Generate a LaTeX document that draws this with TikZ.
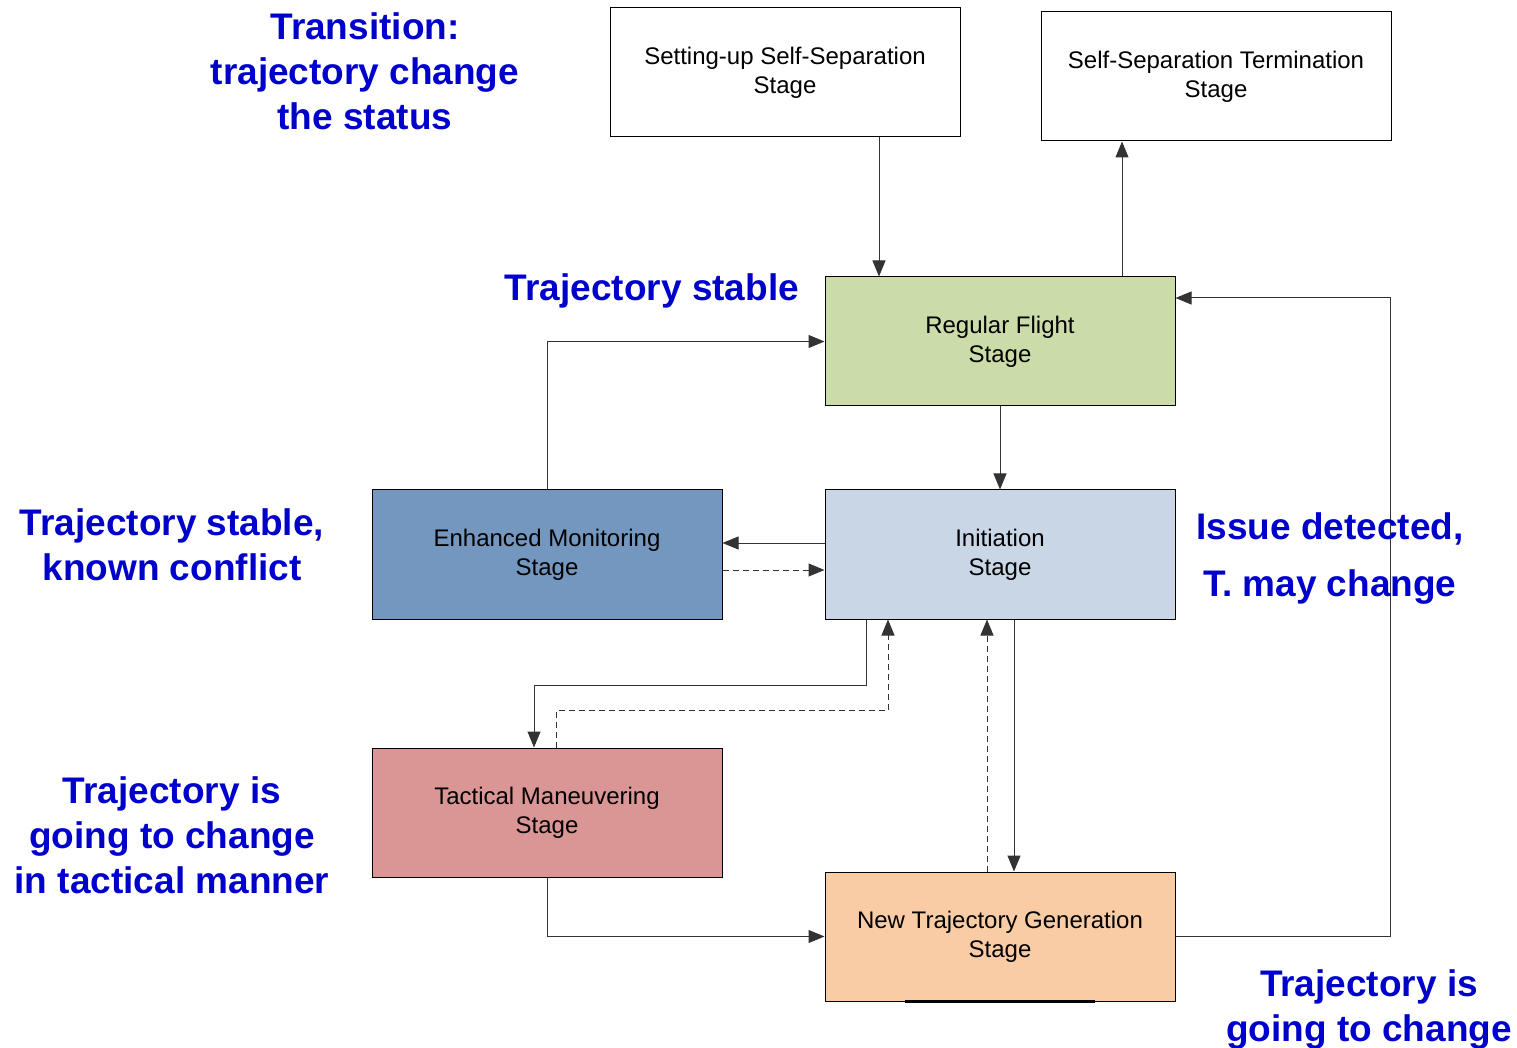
\documentclass[tikz,border=0pt]{standalone}
\usepackage{fontspec}
\setmainfont{Liberation Sans}
\usetikzlibrary{arrows.meta,calc}

\definecolor{labelcolor}{rgb}{0.000000, 0.000000, 0.800000}
\definecolor{linkcolor}{rgb}{0.200000, 0.200000, 0.200000}
\definecolor{regularfill}{rgb}{0.800000, 0.862745, 0.658824}
\definecolor{monitorfill}{rgb}{0.454902, 0.592157, 0.752941}
\definecolor{initfill}{rgb}{0.784314, 0.839216, 0.901961}
\definecolor{tacticalfill}{rgb}{0.854902, 0.588235, 0.580392}
\definecolor{newtrajfill}{rgb}{0.980392, 0.800000, 0.650980}

\tikzset{
  stagebox/.style={draw=black, line width=0.5pt, fill=white, minimum width=175pt,
    minimum height=64.5pt, align=center, font=\fontsize{12}{14.5}\selectfont},
  statuslabel/.style={text=labelcolor, align=center,
    font=\fontsize{18.5}{22.5}\selectfont\bfseries},
  link/.style={draw=linkcolor, line width=0.5pt, -{Triangle[length=8pt,width=6.5pt]}},
  dashlink/.style={link, dash pattern=on 3pt off 2pt}
}

\begin{document}
\begin{tikzpicture}[x=0.5pt,y=-0.5pt]
\useasboundingbox (0,0) rectangle (1517,1048);

\node[stagebox] (setup) at (785,72.5) {Setting-up Self-Separation\\Stage};
\node[stagebox] (termination) at (1216,76.5) {Self-Separation Termination\\Stage};
\node[stagebox, fill=regularfill] (regular) at (1000,341.5) {Regular Flight\\Stage};
\node[stagebox, fill=monitorfill] (monitoring) at (547,554.5) {Enhanced Monitoring\\Stage};
\node[stagebox, fill=initfill] (initiation) at (1000,554.5) {Initiation\\Stage};
\node[stagebox, fill=tacticalfill] (tactical) at (547,812.5) {Tactical Maneuvering\\Stage};
\node[stagebox, fill=newtrajfill] (newtraj) at (1000,936.5) {New Trajectory Generation\\Stage};
\draw[line width=1.5pt] ($(newtraj.south)+(-95,0)$) -- ($(newtraj.south)+(95,0)$);

\draw[link] ($(setup.south)+(94,0)$) -- ($(regular.north)+(-121,0)$);
\draw[link] ($(regular.north)+(122,0)$) -- ($(termination.south)+(-94,0)$);
\draw[link] (regular.south) -- (initiation.north);
\draw[link] ($(initiation.west)+(0,-11.5)$) -- ($(monitoring.east)+(0,-11.5)$);
\draw[dashlink] ($(monitoring.east)+(0,15.5)$) -- ($(initiation.west)+(0,15.5)$);
\draw[link] (monitoring.north) |- (regular.west);
\draw[link] ($(initiation.south)+(-134,0)$) -- ++(0,66) -| ($(tactical.north)+(-13,0)$);
\draw[dashlink] ($(tactical.north)+(9,0)$) -- ++(0,-37) -| ($(initiation.south)+(-112,0)$);
\draw[dashlink] ($(newtraj.north)+(-13,0)$) -- ($(initiation.south)+(-13,0)$);
\draw[link] ($(initiation.south)+(14,0)$) -- ($(newtraj.north)+(14,0)$);
\draw[link] (tactical.south) |- (newtraj.west);
\draw[link] (newtraj.east) -- ++(215,0) |- ($(regular.east)+(0,-43.5)$);

\node[statuslabel] (transition) at (365,71) {Transition:\\trajectory change\\the status};
\node[statuslabel] (stable) at (652,291) {Trajectory stable};
\node[statuslabel] (known) at (172,545) {Trajectory stable,\\known conflict};
\node[statuslabel] (issue) at (1330,558.5) {Issue detected,\\[6pt]T. may change};
\node[statuslabel] (tacticalnote) at (172,835) {Trajectory is\\going to change\\in tactical manner};
\node[statuslabel] (changenote) at (1369,1010) {Trajectory is\\going to change};
\end{tikzpicture}
\end{document}
